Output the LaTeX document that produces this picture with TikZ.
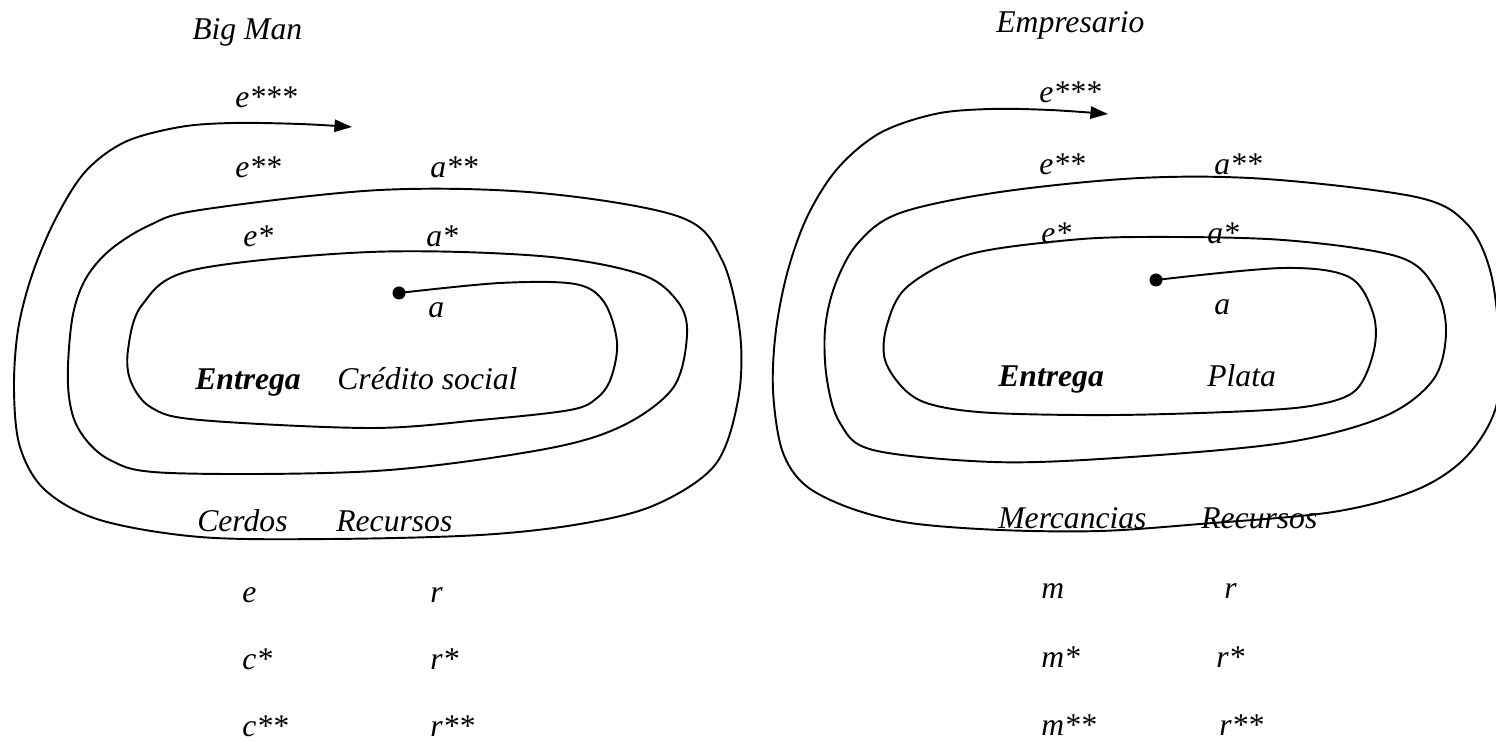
\documentclass[tikz,border=0pt]{standalone}
\usepackage{fontspec}
\setmainfont{Liberation Serif}
\usetikzlibrary{arrows.meta}

\begin{document}
\begin{tikzpicture}[x=0.2mm,y=-0.2mm,
  espiral/.style={line width=1.1pt,-{Triangle[length=10pt,width=7pt]}},
  punto/.style={circle,fill,inner sep=0pt,minimum size=2.6mm},
  txt/.style={font=\fontsize{18}{20}\selectfont\itshape,inner sep=0pt,anchor=base west},
  neg/.style={txt,font=\fontsize{18}{20}\selectfont\bfseries\itshape}]
\useasboundingbox (0,0) rectangle (1496,742);
% Big Man
\node[punto] (inicioA) at (399,293) {};
\draw[espiral] plot[smooth,tension=0.55] coordinates {(inicioA.center) (500,283) (575,284) (604,302) (617,342) (611,378) (597,398) (570,410) (480,420) (370,428) (200,420) (152,408) (131,382) (128,350) (142,305) (193,270) (370,252) (540,256) (640,274) (678,302) (687,335) (673,388) (620,427) (540,450) (375,471) (170,473) (110,460) (78,428) (68,385) (72,320) (85,280) (110,250) (150,225) (200,210) (380,190) (540,193) (680,217) (722,260) (740,333) (738,400) (715,465) (655,505) (580,524) (480,535) (330,539) (200,537) (100,520) (45,490) (20,447) (14,390) (18,330) (32,275) (55,220) (85,172) (125,142) (180,127) (233,123) (300,124) (352,127)};
\node[txt] (bigman) at (192,40) {Big Man};
\node[txt] (e3A) at (235,108) {e***};
\node[txt] (e2A) at (235,178) {e**};
\node[txt] (a2A) at (430,178) {a**};
\node[txt] (e1A) at (243,247) {e*};
\node[txt] (a1A) at (426,247) {a*};
\node[txt] (aA) at (428,318) {a};
\node[neg] (entregaA) at (195,390) {Entrega};
\node[txt] (credito) at (337,390) {Crédito social};
\node[txt] (cerdos) at (197,532) {Cerdos};
\node[txt] (recursosA) at (336,532) {Recursos};
\node[txt] (eA) at (242,602) {e};
\node[txt] (rA) at (430,602) {r};
\node[txt] (c1A) at (242,669) {c*};
\node[txt] (r1A) at (430,669) {r*};
\node[txt] (c2A) at (242,736) {c**};
\node[txt] (r2A) at (430,736) {r**};
% Empresario
\node[punto] (inicioB) at (1156,280) {};
\draw[espiral] plot[smooth,tension=0.55] coordinates {(inicioB.center) (1283,268) (1349,277) (1373,313) (1374,350) (1356,390) (1316,405) (1250,411) (1116,415) (993,413) (933,405) (905,390) (885,360) (887,325) (907,287) (967,255) (1060,241) (1140,237) (1283,240) (1399,257) (1436,290) (1446,333) (1433,380) (1383,417) (1283,443) (1116,458) (993,462) (873,450) (840,423) (827,380) (825,330) (835,285) (858,243) (900,213) (1000,192) (1140,178) (1266,179) (1416,197) (1466,223) (1490,270) (1499,340) (1496,407) (1466,457) (1416,490) (1333,512) (1200,524) (1100,531) (1000,530) (910,523) (850,508) (805,485) (782,450) (773,390) (776,330) (788,270) (808,215) (838,168) (880,133) (935,114) (990,109) (1050,110) (1108,114)};
\node[txt] (empresario) at (996,33) {Empresario};
\node[txt] (e3B) at (1039,103) {e***};
\node[txt] (e2B) at (1039,175) {e**};
\node[txt] (a2B) at (1214,175) {a**};
\node[txt] (e1B) at (1041,244) {e*};
\node[txt] (a1B) at (1207,244) {a*};
\node[txt] (aB) at (1214,315) {a};
\node[neg] (entregaB) at (998,387) {Entrega};
\node[txt] (plata) at (1207,387) {Plata};
\node[txt] (mercancias) at (998,528) {Mercancias};
\node[txt] (recursosB) at (1201,528) {Recursos};
\node[txt] (mB) at (1041,598) {m};
\node[txt] (rB) at (1224,598) {r};
\node[txt] (m1B) at (1041,667) {m*};
\node[txt] (r1B) at (1216,667) {r*};
\node[txt] (m2B) at (1041,735) {m**};
\node[txt] (r2B) at (1219,735) {r**};
\end{tikzpicture}
\end{document}
